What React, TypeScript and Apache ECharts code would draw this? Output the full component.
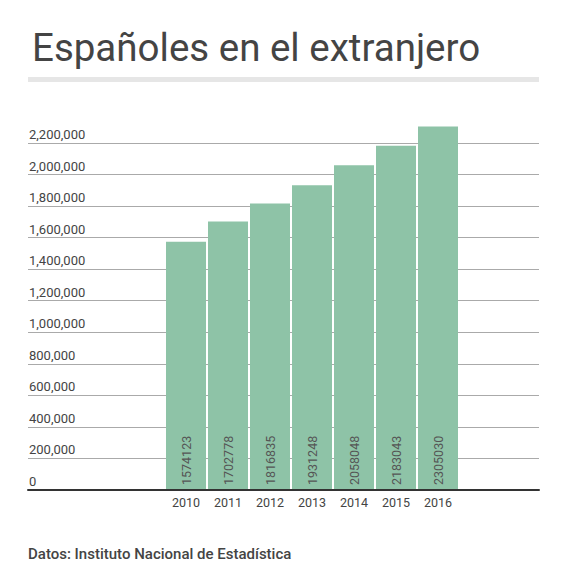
import * as echarts from "echarts";
import { useEffect, useRef } from "react";

const years = ["2010", "2011", "2012", "2013", "2014", "2015", "2016"];
const residents = [1574123, 1702778, 1816835, 1931248, 2058048, 2183043, 2305030];
const yMax = 2400000;
const yStep = 200000;

const FONT = "Roboto";

export default function App() {
  const chartRef = useRef<HTMLDivElement>(null);

  useEffect(() => {
    document.body.style.margin = "0";
    if (!chartRef.current) return;
    const chart = echarts.init(chartRef.current, null, { renderer: "svg" });

    const option = {
      animation: false,
      textStyle: { fontFamily: FONT },
      title: {
        text: "Españoles en el extranjero",
        left: 27,
        top: 23,
        textStyle: { fontFamily: FONT, fontSize: 38.5, fontWeight: "normal", color: "#444" },
      },
      graphic: [
        { type: "rect", shape: { x: 28, y: 77, width: 511, height: 5 }, style: { fill: "#e6e6e6" } },
        {
          type: "text",
          x: 28,
          y: 554,
          style: {
            text: "Datos: Instituto Nacional de Estadística",
            fontFamily: FONT,
            fontSize: 15,
            fontWeight: 500,
            fill: "#444",
            verticalAlign: "middle",
          },
        },
      ],
      grid: [
        { left: 28, right: 39, top: 111.4, bottom: 86 },
        { left: 165, width: 294, top: 111.4, bottom: 86 },
      ],
      xAxis: [
        {
          gridIndex: 0,
          type: "category",
          data: [""],
          z: 10,
          axisLine: { lineStyle: { color: "#333", width: 2 } },
          axisTick: { show: false },
          axisLabel: { show: false },
        },
        {
          gridIndex: 1,
          type: "category",
          data: years,
          axisLine: { show: false },
          axisTick: { show: false },
          axisLabel: { color: "#444", fontSize: 12.5, margin: 6, fontFamily: FONT },
        },
      ],
      yAxis: [
        {
          gridIndex: 0,
          type: "value",
          min: 0,
          max: yMax,
          interval: yStep,
          axisLine: { show: false },
          axisTick: { show: false },
          axisLabel: {
            inside: true,
            margin: 1,
            align: "left",
            verticalAlign: "bottom",
            padding: [0, 0, 2, 0],
            showMaxLabel: false,
            color: "#444",
            fontSize: 13,
            fontFamily: FONT,
          },
          splitLine: { showMaxLine: false, lineStyle: { color: "#aaa", width: 1 } },
        },
        {
          gridIndex: 1,
          type: "value",
          min: 0,
          max: yMax,
          interval: yStep,
          show: false,
          splitLine: { show: false },
        },
      ],
      series: [
        {
          type: "bar",
          xAxisIndex: 1,
          yAxisIndex: 1,
          data: residents,
          barWidth: 40,
          itemStyle: { color: "#8ec3a7" },
          label: {
            show: true,
            position: "insideBottom",
            rotate: 90,
            align: "left",
            verticalAlign: "middle",
            distance: 5,
            formatter: "{c}",
            fontSize: 12.5,
            fontFamily: FONT,
            color: "#555",
          },
        },
      ],
    };

    chart.setOption(option);
    return () => chart.dispose();
  }, []);

  return <div ref={chartRef} style={{ width: 578, height: 576 }} />;
}
